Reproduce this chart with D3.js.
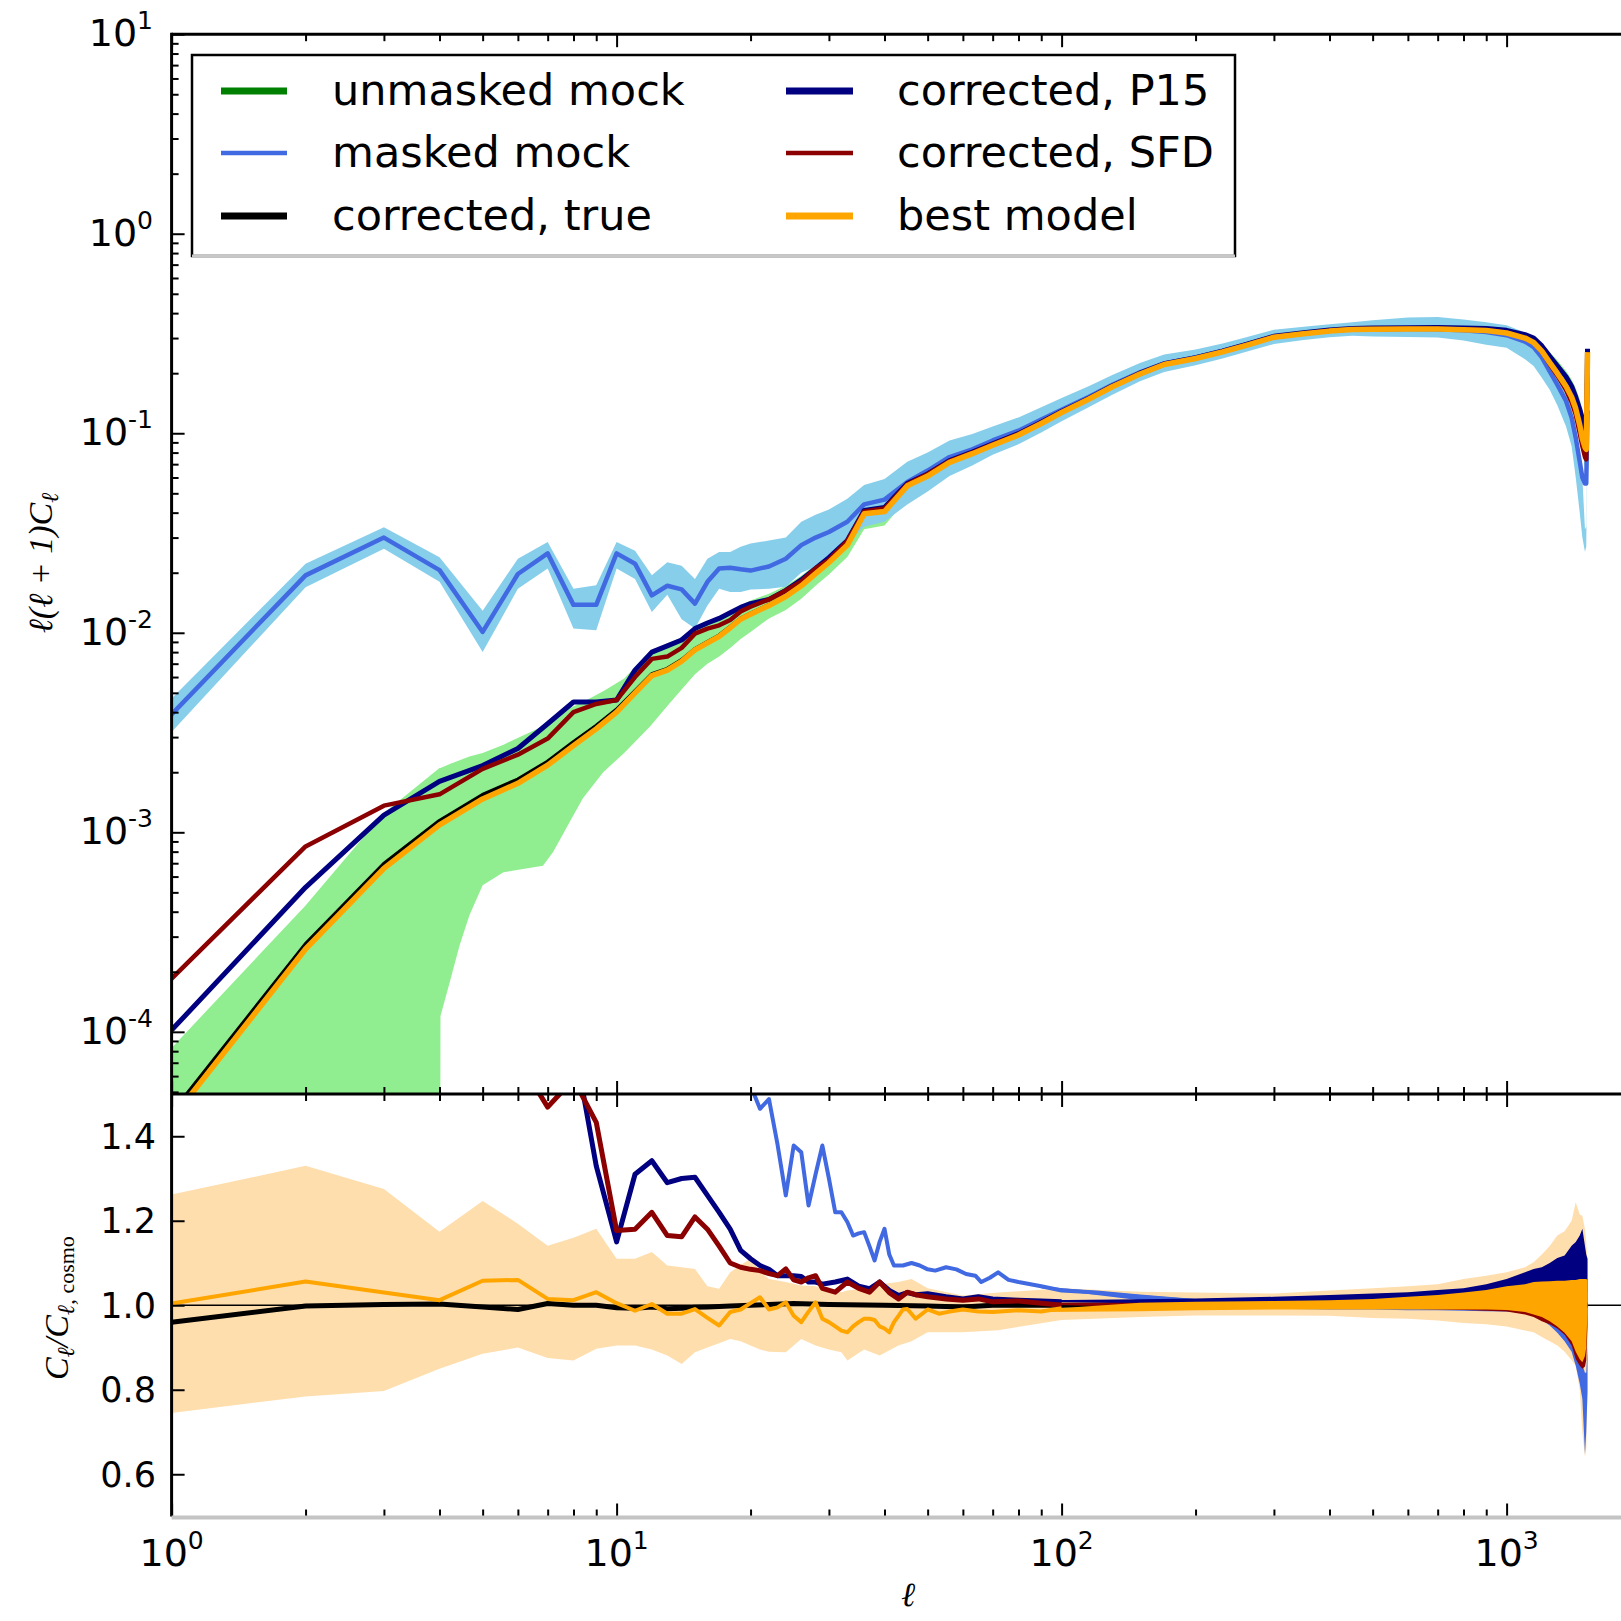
<!DOCTYPE html>
<html><head><meta charset="utf-8">
<script src="https://cdn.jsdelivr.net/npm/d3@7"></script>
<style>body{margin:0;background:#fff} svg{display:block}</style>
</head><body><svg id="c" width="1621" height="1621"></svg>
<script>
// ---------------- DATA ----------------
const ellTop = [1,2,3,4,5,6,7,8,9,10,
  11,12,13,14,15,16,17,18,19,20,
  22,24,26,28,30,33,36,40,45,50,
  56,63,70,80,90,100,115,130,150,170,
  200,230,260,300,350,400,450,500,600,700,
  800,900,1000,1100,1150,1200,1250,1300,1360,1400,
  1430,1460,1480,1500,1510,1520];
const bestTop = [3.65e-5,2.6e-4,6.6e-4,1.09e-3,1.47e-3,1.76e-3,2.17e-3,2.72e-3,3.3e-3,4.0e-3,
  5.0e-3,6.1e-3,6.5e-3,7.2e-3,8.2e-3,8.9e-3,9.6e-3,0.0106,0.0117,0.0124,
  0.0137,0.0152,0.0172,0.0198,0.0225,0.0275,0.0395,0.0405,0.0545,0.0610,
  0.0715,0.0790,0.0870,0.0980,0.112,0.127,0.148,0.171,0.198,0.221,
  0.237,0.256,0.276,0.303,0.315,0.325,0.331,0.332,0.333,0.333,
  0.330,0.327,0.318,0.300,0.285,0.258,0.226,0.200,0.172,0.152,
  0.133,0.110,0.094,0.085,0.083,0.255];
const trueTop = [3.9e-5,2.75e-4,6.95e-4,1.14e-3,1.54e-3,1.84e-3,2.26e-3,2.83e-3,3.42e-3,4.12e-3,
  5.1e-3,6.2e-3,6.6e-3,7.3e-3,8.3e-3,9.0e-3,9.7e-3,0.0107,0.0118,0.0125,
  0.0138,0.0153,0.0173,0.0199,0.0226,0.0276,0.0396,0.0406,0.0546,0.0611,
  0.0716,0.0791,0.0871,0.0981,0.112,0.127,0.148,0.171,0.198,0.221,
  0.237,0.256,0.276,0.303,0.315,0.325,0.331,0.332,0.333,0.333,
  0.330,0.327,0.318,0.300,0.285,0.258,0.226,0.200,0.172,0.152,
  0.133,0.110,0.094,0.085,0.083,0.255];
const p15Top = [1.02e-4,5.3e-4,1.22e-3,1.80e-3,2.16e-3,2.63e-3,3.5e-3,4.5e-3,4.5e-3,4.6e-3,
  6.5e-3,8.0e-3,8.6e-3,9.2e-3,0.0105,0.0112,0.0118,0.0126,0.0134,0.0140,
  0.0147,0.0163,0.0184,0.0210,0.0238,0.0290,0.0410,0.0425,0.0560,0.0625,
  0.0730,0.0805,0.0885,0.0995,0.1135,0.1285,0.1495,0.1725,0.200,0.223,
  0.239,0.258,0.279,0.306,0.319,0.329,0.335,0.337,0.338,0.339,
  0.337,0.335,0.328,0.312,0.300,0.274,0.243,0.218,0.192,0.172,
  0.152,0.132,0.118,0.105,0.100,0.265];
const sfdTop = [1.85e-4,8.5e-4,1.36e-3,1.55e-3,2.08e-3,2.45e-3,2.95e-3,4.0e-3,4.4e-3,4.6e-3,
  6.0e-3,7.4e-3,7.6e-3,8.4e-3,9.9e-3,0.0105,0.0109,0.0116,0.0128,0.0135,
  0.0147,0.0163,0.0181,0.0210,0.0232,0.0289,0.0405,0.0420,0.0555,0.0625,
  0.0725,0.0800,0.0880,0.0990,0.1130,0.1280,0.149,0.172,0.199,0.222,
  0.238,0.257,0.277,0.304,0.316,0.326,0.332,0.333,0.334,0.334,
  0.331,0.328,0.319,0.300,0.284,0.256,0.222,0.195,0.165,0.143,
  0.124,0.100,0.086,0.076,0.074,0.250];
const maskedTop = [3.9e-3,0.0194,0.0300,0.0206,0.0101,0.0197,0.0250,0.0138,0.0138,0.0250,
  0.0222,0.0154,0.0172,0.0165,0.0140,0.0180,0.0210,0.0212,0.0208,0.0205,
  0.0215,0.0235,0.0275,0.0300,0.0320,0.0360,0.0440,0.0465,0.0570,0.0650,
  0.0760,0.0830,0.0920,0.1030,0.1170,0.1310,0.1520,0.1750,0.2020,0.2240,
  0.2400,0.2590,0.2790,0.3050,0.3170,0.3270,0.3320,0.3330,0.3330,0.3320,
  0.3280,0.3220,0.3100,0.2880,0.2700,0.2400,0.2040,0.1750,0.1450,0.1200,
  0.0950,0.0720,0.0600,0.0560,0.0560,0.1300];
const maskedLo = [3.18e-3,0.0169,0.0264,0.0180,0.0080,0.0166,0.0210,0.0105,0.0103,0.0210,
  0.0186,0.0127,0.0155,0.0117,0.0105,0.0137,0.0166,0.0160,0.0160,0.0165,
  0.0166,0.0170,0.0200,0.0215,0.0240,0.0280,0.0340,0.0360,0.0440,0.0510,
  0.0610,0.0690,0.0780,0.0880,0.1010,0.1150,0.1350,0.1560,0.1820,0.2030,
  0.2190,0.2370,0.2560,0.2800,0.2930,0.3030,0.3080,0.3050,0.3040,0.3020,
  0.2920,0.2780,0.2680,0.2350,0.2170,0.1900,0.1650,0.1380,0.1080,0.0860,
  0.0600,0.0400,0.0300,0.0255,0.0270,0.1100];
const maskedHi = [4.68e-3,0.0222,0.0338,0.0239,0.0129,0.0235,0.0285,0.0166,0.0173,0.0285,
  0.0258,0.0194,0.0226,0.0217,0.0186,0.0235,0.0254,0.0254,0.0270,0.0280,
  0.0290,0.0300,0.0360,0.0390,0.0415,0.0470,0.0550,0.0590,0.0720,0.0800,
  0.0920,0.0990,0.1080,0.1200,0.1350,0.1500,0.1720,0.1960,0.2250,0.2480,
  0.2630,0.2820,0.3030,0.3300,0.3420,0.3520,0.3600,0.3680,0.3800,0.3820,
  0.3720,0.3600,0.3480,0.3200,0.3050,0.2750,0.2350,0.2000,0.1600,0.1300,
  0.1020,0.0800,0.0600,0.0330,0.0340,0.1300];
const ellGreen = [1,2,3,4,4.02,4.22,4.44,4.67,5,5.57,
  6.83,7.2,7.85,8.4,9.33,10.4,11.9,13,14,15,
  16,17,18,19,20,22,24,26,28,30,
  33,36,40,45,50,56,63,70,80,90,
  100,115,130,150,170,200,230,260,300,350,
  400,450,500,600,700,800,900,1000,1100,1150,
  1200,1250,1300,1360,1400,1430,1460,1480,1500,1510,1520];
const greenLo = [1e-7,1e-7,1e-7,1e-7,1.2e-4,1.78e-4,2.72e-4,3.84e-4,5.43e-4,6.3e-4,
  6.8e-4,7.97e-4,1.13e-3,1.48e-3,2.0e-3,2.5e-3,3.4e-3,4.3e-3,5.2e-3,6.2e-3,
  7.0e-3,7.6e-3,8.4e-3,9.3e-3,0.0101,0.0118,0.0130,0.0148,0.0172,0.0196,
  0.0240,0.0330,0.0345,0.0470,0.0540,0.0640,0.0710,0.0790,0.0900,0.1030,
  0.1170,0.1380,0.1610,0.1880,0.2110,0.2280,0.2470,0.2670,0.2930,0.3060,
  0.3160,0.3220,0.3230,0.3240,0.3230,0.3210,0.3170,0.3080,0.2900,0.2740,
  0.2460,0.2140,0.1880,0.1580,0.1380,0.1170,0.0960,0.0800,0.0680,0.0650,0.2100];
const greenHi = [8.3e-5,4.3e-4,1.25e-3,2.1e-3,2.1e-3,2.2e-3,2.3e-3,2.4e-3,2.5e-3,2.75e-3,
  3.4e-3,3.6e-3,4.2e-3,4.5e-3,5.1e-3,5.9e-3,8.1e-3,8.8e-3,9.5e-3,0.0104,
  0.0112,0.0120,0.0128,0.0137,0.0145,0.0157,0.0172,0.0193,0.0220,0.0246,
  0.0298,0.0425,0.0435,0.0580,0.0648,0.0755,0.0833,0.0915,0.1030,0.1170,
  0.1325,0.154,0.177,0.205,0.228,0.244,0.263,0.283,0.311,0.323,
  0.333,0.339,0.340,0.341,0.342,0.340,0.338,0.332,0.318,0.306,
  0.282,0.255,0.232,0.205,0.186,0.168,0.148,0.130,0.118,0.115,0.260];

// lower panel: ratio C_l / C_l,cosmo
const ellBand = [1,2,3,4,5,6,7,8,9,10,11,12,13,14,15,16,17,18,19,20,
  21,22,24,26,28,30,32,33,36,39,43,46,50,60,72,100,150,200,300,400,
  500,600,700,800,900,1000,1100,1150,1200,1250,1300,1350,1400,1430,1460,1480,1500,1510,1520];
const bandLo = [0.745,0.784,0.797,0.850,0.885,0.900,0.875,0.869,0.897,0.905,
  0.905,0.895,0.881,0.861,0.889,0.900,0.910,0.920,0.915,0.905,
  0.895,0.890,0.889,0.920,0.905,0.895,0.889,0.869,0.895,0.881,
  0.905,0.915,0.936,0.936,0.941,0.965,0.972,0.976,0.976,0.975,
  0.970,0.968,0.964,0.958,0.955,0.950,0.940,0.936,0.925,0.915,
  0.905,0.890,0.870,0.857,0.800,0.700,0.640,0.660,0.800];
const bandHi = [1.262,1.330,1.275,1.174,1.247,1.193,1.141,1.160,1.181,1.110,
  1.110,1.126,1.094,1.090,1.086,1.045,1.039,1.078,1.095,1.110,
  1.080,1.062,1.055,1.047,1.045,1.035,1.031,1.035,1.040,1.050,
  1.055,1.062,1.040,1.023,1.030,1.040,1.032,1.030,1.028,1.035,
  1.040,1.045,1.050,1.062,1.070,1.078,1.090,1.102,1.120,1.140,
  1.165,1.175,1.200,1.244,1.215,1.212,1.180,1.150,1.100];

const ellBestR = [1,2,3,4,5,6,7,8,9,10,11,12,13,14,15,16,17,18,19,20,
  21,22,23,24,25,26,27,28,29,30,31,32,33,34,35,36,37,38,39,40,
  41,42,43,44,45,47,50,53,56,60,65,70,80,90,100];
const bestR = [1.004,1.056,1.030,1.012,1.058,1.060,1.015,1.012,1.031,1.005,
  0.987,1.003,0.980,0.980,0.991,0.970,0.952,0.984,0.990,1.005,
  1.019,0.990,0.995,1.007,0.975,0.960,0.985,1.007,0.968,0.960,
  0.950,0.940,0.936,0.950,0.960,0.968,0.968,0.965,0.950,0.945,
  0.936,0.960,0.975,0.990,0.991,0.968,0.990,0.980,0.985,0.990,
  0.985,0.984,0.988,0.985,0.993];

const ellCorrR = [1,2,3,4,5,6,7,8,9,10,11,12,13,14,15,16,17,18,19,20,
  21,22,23,24,25,26,27,28,29,31,33,35,37,39,41,43,45,47,50,55,60,65,70,80,90,100];
const p15R = [2.6,2.1,1.9,1.7,1.6,1.6,1.65,1.63,1.33,1.15,
  1.31,1.342,1.29,1.30,1.303,1.26,1.22,1.18,1.13,1.11,
  1.094,1.085,1.07,1.07,1.07,1.068,1.055,1.055,1.05,1.055,
  1.062,1.045,1.039,1.055,1.035,1.023,1.03,1.025,1.027,1.02,
  1.015,1.02,1.015,1.012,1.01,1.008];
const sfdR = [3.0,2.8,2.2,1.9,1.7,1.584,1.469,1.535,1.433,1.177,
  1.18,1.22,1.165,1.162,1.209,1.18,1.14,1.10,1.09,1.085,
  1.082,1.075,1.07,1.086,1.06,1.055,1.065,1.07,1.04,1.031,
  1.055,1.04,1.031,1.055,1.03,1.015,1.031,1.025,1.02,1.015,
  1.012,1.015,1.008,1.01,1.005,1.0];

const ellMaskR = [1,2,3,4,5,6,7,8,9,10,11,12,13,14,15,16,17,18,19,20,
  21,22,23,24,25,26,27,28,29,30,31,32,33,34,35,36,
  37,38,39,40,41,42,44,46,48,50,52,55,58,61,64,66,69,72,76,80,90,100,120,150,200];
const maskR = [107,75,45,19,7,11,11.5,5,4.2,6.2,
  4.4,2.5,2.6,2.3,1.7,2.0,2.2,2.0,1.8,1.52,
  1.465,1.488,1.38,1.26,1.378,1.362,1.236,1.31,1.378,1.30,
  1.22,1.22,1.197,1.165,1.17,1.173,
  1.14,1.106,1.15,1.181,1.12,1.094,1.094,1.10,1.094,1.085,1.082,1.09,1.085,1.074,1.07,1.055,1.065,1.078,1.06,1.055,1.045,1.035,1.030,1.021,1.010];

const ellTrueR = [1,2,3,4,5,6,7,8,9,10,11,12,13,14,15,16,17,18,20,25,30,40,50,60,70,100,200,400,700,1000,1300,1520];
const trueR = [0.960,0.998,1.002,1.003,0.996,0.990,1.004,1.000,1.000,0.994,0.993,0.996,0.992,0.993,0.995,0.996,0.997,0.998,1.000,1.004,1.002,1.000,0.998,0.996,1.000,1.000,1.000,1.000,1.000,1.000,1.000,1.000];

// high-l scatter envelopes of the noisy ratio curves
const ellHi = [90,150,200,300,400,500,600,700,800,900,1000,1100,1150,1200,1250,1300,1350,1400,1430,1460,1480,1500,1510,1520];
const bestEnvLo = [0.984,0.986,0.988,0.990,0.990,0.990,0.990,0.990,0.990,0.990,0.989,0.984,0.978,0.972,0.962,0.950,0.935,0.915,0.890,0.872,0.865,0.880,0.900,0.990];
const bestEnvHi = [0.990,1.006,1.008,1.010,1.012,1.015,1.020,1.024,1.030,1.036,1.045,1.050,1.055,1.056,1.057,1.058,1.058,1.060,1.060,1.062,1.062,1.062,1.062,1.060];
const p15EnvLo = [1.008,1.004,1.004,1.004,1.005,1.005,1.006,1.006,1.007,1.008,1.010,1.012,1.015,1.018,1.020,1.022,1.025,1.028,1.030,1.030,1.030,1.030,1.030,1.030];
const p15EnvHi = [1.012,1.014,1.016,1.020,1.024,1.028,1.031,1.036,1.040,1.050,1.062,1.078,1.086,1.090,1.100,1.112,1.118,1.141,1.150,1.165,1.181,1.140,1.120,1.110];
const maskEnvLo = [1.040,1.012,1.002,0.992,0.990,0.990,0.988,0.988,0.987,0.986,0.985,0.982,0.976,0.965,0.952,0.935,0.915,0.890,0.857,0.815,0.778,0.648,0.700,0.795];
const maskEnvHi = [1.045,1.024,1.014,1.008,1.008,1.008,1.008,1.008,1.006,1.004,1.000,0.995,0.990,0.985,0.975,0.965,0.950,0.930,0.900,0.880,0.860,0.840,0.840,0.900];
const sfdEnvLo = [1.002,0.995,0.994,0.994,0.994,0.993,0.992,0.990,0.989,0.987,0.985,0.978,0.972,0.962,0.955,0.945,0.930,0.905,0.873,0.857,0.850,0.855,0.870,0.950];
const sfdEnvHi = [1.006,1.006,1.006,1.006,1.008,1.008,1.010,1.010,1.012,1.014,1.016,1.018,1.020,1.020,1.022,1.022,1.024,1.024,1.026,1.028,1.030,1.030,1.030,1.030];

// ticks & legend
const xMajor = [1,10,100,1000];
const xMinor = [2,3,4,5,6,7,8,9,20,30,40,50,60,70,80,90,200,300,400,500,600,700,800,900];
const xTickExp = ["0","1","2","3"];
const yTopMajor = [1e-4,1e-3,1e-2,1e-1,1,10];
const yTopExp = ["-4","-3","-2","-1","0","1"];
const yTopMinor = [];
[-5,-4,-3,-2,-1,0].forEach(e=>{[2,3,4,5,6,7,8,9].forEach(k=>{const v=k*Math.pow(10,e); if(v>=4.88e-5 && v<10) yTopMinor.push(v);});});
const yBotMajor = [0.6,0.8,1.0,1.2,1.4];
const yBotLabels = ["0.6","0.8","1.0","1.2","1.4"];
const legendLabels = ["unmasked mock","masked mock","corrected, true","corrected, P15","corrected, SFD","best model"];
const legendColors = ["green","royalblue","black","navy","darkred","orange"];
const legendWidths = [7,4.5,7,7,4.5,7];

// ---------------- DRAWING ----------------
const W = 1621;
const svg = d3.select("#c");
svg.append("rect").attr("width",W).attr("height",W).attr("fill","#fff");

const x = d3.scaleLog().domain([1,2000]).range([171.6, 171.6 + 445*Math.log10(2000)]);
const yT = d3.scaleLog().domain([4.88e-5,10]).range([1094,34.2]);
const yB = d3.scaleLinear().domain([0.5,1.5]).range([1516.5,1094]);

const defs = svg.append("defs");
defs.append("clipPath").attr("id","cT").append("rect")
  .attr("x",x(1)).attr("y",yT(10)).attr("width",W-x(1)).attr("height",yT.range()[0]-yT(10));
defs.append("clipPath").attr("id","cB").append("rect")
  .attr("x",x(1)).attr("y",yB(1.5)).attr("width",W-x(1)).attr("height",yB(0.5)-yB(1.5));

const gT = svg.append("g").attr("clip-path","url(#cT)");
const gB = svg.append("g").attr("clip-path","url(#cB)");

const zip = (a,b)=>a.map((v,i)=>[v,b[i]]);
const zip3 = (a,b,c)=>a.map((v,i)=>[v,b[i],c[i]]);

const areaT = d3.area().x(d=>x(d[0])).y0(d=>yT(d[1])).y1(d=>yT(d[2]));
const lineT = d3.line().x(d=>x(d[0])).y(d=>yT(d[1]));
const areaB = d3.area().x(d=>x(d[0])).y0(d=>yB(d[1])).y1(d=>yB(d[2]));
const lineB = d3.line().x(d=>x(d[0])).y(d=>yB(d[1]));

function band(g, gen, data, color){ g.append("path").datum(data).attr("d",gen).attr("fill",color).attr("stroke","none"); }
function curve(g, gen, data, color, w){ g.append("path").datum(data).attr("d",gen).attr("fill","none")
  .attr("stroke",color).attr("stroke-width",w).attr("stroke-linejoin","round").attr("stroke-linecap","butt"); }

// upper panel
band(gT, areaT, zip3(ellGreen, greenLo, greenHi), "#90EE90");
band(gT, areaT, zip3(ellTop, maskedLo, maskedHi), "#87CEEB");
curve(gT, lineT, zip(ellTop, maskedTop), "royalblue", 4.5);
curve(gT, lineT, zip(ellTop, trueTop), "black", 4);
curve(gT, lineT, zip(ellTop, p15Top), "navy", 5);
curve(gT, lineT, zip(ellTop, sfdTop), "darkred", 4.5);
curve(gT, lineT, zip(ellTop, bestTop), "orange", 5.5);

// lower panel
band(gB, areaB, zip3(ellBand, bandLo, bandHi), "#FFDEAD");
gB.append("line").attr("x1",x(1)).attr("x2",W).attr("y1",yB(1)).attr("y2",yB(1)).attr("stroke","black").attr("stroke-width",1.5);
band(gB, areaB, zip3(ellHi, maskEnvLo, maskEnvHi), "royalblue");
curve(gB, lineB, zip(ellMaskR, maskR), "royalblue", 4);
curve(gB, lineB, zip(ellTrueR, trueR), "black", 5);
band(gB, areaB, zip3(ellHi, p15EnvLo, p15EnvHi), "navy");
curve(gB, lineB, zip(ellCorrR, p15R), "navy", 5);
band(gB, areaB, zip3(ellHi, sfdEnvLo, sfdEnvHi), "darkred");
curve(gB, lineB, zip(ellCorrR, sfdR), "darkred", 5);
band(gB, areaB, zip3(ellHi, bestEnvLo, bestEnvHi), "orange");
curve(gB, lineB, zip(ellBestR, bestR), "orange", 4);

// ticks (inward) through d3 axes
function ticks(axis, tr){
  const g = svg.append("g").attr("transform",tr).call(axis);
  g.select(".domain").remove();
  g.selectAll("text").remove();
  g.selectAll("line").attr("stroke","#000").attr("stroke-width",2);
}
const ytop = yT(10), ymid = yT.range()[0], ybot = yB(0.5), xl = x(1);
ticks(d3.axisTop(x).tickValues(xMajor).tickSizeInner(-13).tickSizeOuter(0).tickFormat(""), `translate(0,${ytop})`);
ticks(d3.axisTop(x).tickValues(xMinor).tickSizeInner(-7).tickSizeOuter(0).tickFormat(""), `translate(0,${ytop})`);
ticks(d3.axisBottom(x).tickValues(xMajor).tickSizeInner(-13).tickSizeOuter(0).tickFormat(""), `translate(0,${ymid})`);
ticks(d3.axisBottom(x).tickValues(xMinor).tickSizeInner(-7).tickSizeOuter(0).tickFormat(""), `translate(0,${ymid})`);
ticks(d3.axisTop(x).tickValues(xMajor).tickSizeInner(-13).tickSizeOuter(0).tickFormat(""), `translate(0,${ymid})`);
ticks(d3.axisTop(x).tickValues(xMinor).tickSizeInner(-7).tickSizeOuter(0).tickFormat(""), `translate(0,${ymid})`);
ticks(d3.axisBottom(x).tickValues(xMajor).tickSizeInner(-13).tickSizeOuter(0).tickFormat(""), `translate(0,${ybot})`);
ticks(d3.axisBottom(x).tickValues(xMinor).tickSizeInner(-7).tickSizeOuter(0).tickFormat(""), `translate(0,${ybot})`);
ticks(d3.axisLeft(yT).tickValues(yTopMajor).tickSizeInner(-13).tickSizeOuter(0).tickFormat(""), `translate(${xl},0)`);
ticks(d3.axisLeft(yT).tickValues(yTopMinor).tickSizeInner(-7).tickSizeOuter(0).tickFormat(""), `translate(${xl},0)`);
ticks(d3.axisLeft(yB).tickValues(yBotMajor).tickSizeInner(-13).tickSizeOuter(0).tickFormat(""), `translate(${xl},0)`);

// spines
const sp = svg.append("g").attr("stroke","#000").attr("stroke-width",3);
sp.append("line").attr("x1",xl).attr("x2",W).attr("y1",ytop).attr("y2",ytop);
sp.append("line").attr("x1",xl).attr("x2",W).attr("y1",ymid).attr("y2",ymid);
sp.append("line").attr("x1",xl).attr("x2",xl).attr("y1",ytop-1.5).attr("y2",ybot);
svg.append("line").attr("x1",xl).attr("x2",W).attr("y1",ybot+1).attr("y2",ybot+1).attr("stroke","#c4c4c4").attr("stroke-width",4);

// tick labels
const FS = "DejaVu Sans, sans-serif";
const tl = svg.append("g").attr("font-family",FS).attr("fill","#000");
xMajor.forEach((v,i)=>{
  const t = tl.append("text").attr("x",x(v)).attr("y",1566).attr("text-anchor","middle").attr("font-size",38);
  t.append("tspan").text("10");
  t.append("tspan").attr("dy",-17).attr("font-size",25).text(xTickExp[i]);
});
yTopMajor.forEach((v,i)=>{
  const t = tl.append("text").attr("x",153).attr("y",yT(v)+12).attr("text-anchor","end").attr("font-size",38);
  t.append("tspan").text("10");
  t.append("tspan").attr("dy",-17).attr("font-size",25).text(yTopExp[i]);
});
yBotMajor.forEach((v,i)=>{
  tl.append("text").attr("x",156).attr("y",yB(v)+12.5).attr("text-anchor","end").attr("font-size",35).text(yBotLabels[i]);
});

// axis labels
const SF = "Liberation Serif, DejaVu Serif, serif";
const lab1 = svg.append("text").attr("transform","translate(52,563) rotate(-90)").attr("text-anchor","middle")
  .attr("font-family",SF).attr("font-style","italic").attr("font-size",34);
lab1.append("tspan").text("\u2113(\u2113 + 1)C");
lab1.append("tspan").attr("dy",6).attr("font-size",24).text("\u2113");
const lab2 = svg.append("text").attr("transform","translate(68,1308) rotate(-90)").attr("text-anchor","middle")
  .attr("font-family",SF).attr("font-style","italic").attr("font-size",34);
lab2.append("tspan").text("C");
lab2.append("tspan").attr("dy",6).attr("font-size",24).text("\u2113");
lab2.append("tspan").attr("dy",-6).text("/C");
lab2.append("tspan").attr("dy",6).attr("font-size",24).text("\u2113,");
lab2.append("tspan").attr("font-size",22).attr("font-style","normal").text(" cosmo");
svg.append("text").attr("x",908).attr("y",1606).attr("text-anchor","middle")
  .attr("font-family",SF).attr("font-style","italic").attr("font-size",34).text("\u2113");

// legend
const lg = svg.append("g");
lg.append("rect").attr("x",192).attr("y",55).attr("width",1043).attr("height",201)
  .attr("fill","#fff").attr("stroke","#000").attr("stroke-width",2.5);
lg.append("line").attr("x1",192).attr("x2",1235).attr("y1",256).attr("y2",256).attr("stroke","#c8c8c8").attr("stroke-width",3);
const colX = [[221,287,332],[786,853,897]];
const rowY = [91,153,216];
legendLabels.forEach((lbl,i)=>{
  const c = colX[Math.floor(i/3)], y = rowY[i%3];
  lg.append("line").attr("x1",c[0]).attr("x2",c[1]).attr("y1",y).attr("y2",y)
    .attr("stroke",legendColors[i]).attr("stroke-width",legendWidths[i]);
  lg.append("text").attr("x",c[2]).attr("y",y+14).attr("font-family",FS).attr("font-size",43).attr("fill","#000").text(lbl);
});
</script></body></html>
